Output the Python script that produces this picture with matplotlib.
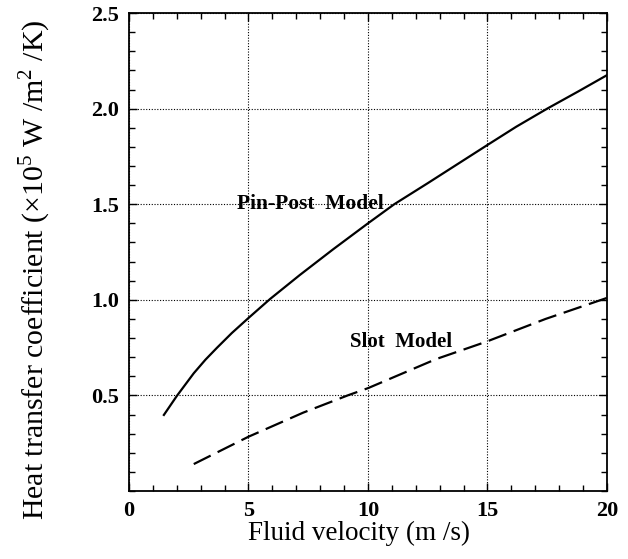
import matplotlib.pyplot as plt
import numpy as np
from matplotlib.ticker import MultipleLocator

plt.rcParams['font.family'] = ['Liberation Serif', 'DejaVu Serif']
plt.rcParams['mathtext.fontset'] = 'custom'
plt.rcParams['mathtext.rm'] = 'Liberation Serif'

# values
pin_v = [1.46, 2.0, 2.71, 3.2, 3.68, 4.3, 5.0, 5.9, 7.15, 8.55, 10.0, 11.1,
         12.5, 15.0, 16.2, 17.5, 18.8, 20.0]
pin_h = [0.398, 0.497, 0.616, 0.687, 0.749, 0.826, 0.905, 1.004, 1.13, 1.265,
         1.40, 1.50, 1.61, 1.81, 1.905, 2.0, 2.09, 2.175]
slot_v = [2.71, 5.0, 7.29, 9.17, 10.0, 12.85, 14.93, 17.43, 20.0]
slot_h = [0.141, 0.284, 0.41, 0.501, 0.538, 0.69, 0.78, 0.90, 1.01]

fig = plt.figure(figsize=(6.28, 5.59), dpi=100)
ax = fig.add_axes([0.2054, 0.1216, 0.7611, 0.8551])

ax.plot(pin_v, pin_h, color='black', lw=1.6)
ax.plot(slot_v, slot_h, color='black', lw=1.6, dashes=(8.5, 3.5))

ax.text(7.57, 1.50, 'Pin-Post  Model', fontsize=15.5, fontweight='bold',
        ha='center', va='center')
ax.text(11.39, 0.78, 'Slot  Model', fontsize=15, fontweight='bold',
        ha='center', va='center')

ax.set_xlim(0, 20)
ax.set_ylim(0, 2.5)
ax.xaxis.set_major_locator(MultipleLocator(5))
ax.xaxis.set_minor_locator(MultipleLocator(1))
ax.yaxis.set_minor_locator(MultipleLocator(0.1))
ax.set_yticks([0.5, 1.0, 1.5, 2.0, 2.5])
ax.set_yticklabels(['0.5', '1.0', '1.5', '2.0', '2.5'])

ax.grid(True, which='major', color='black', linestyle=(0, (1, 1.5)), lw=0.8)
ax.tick_params(which='both', direction='in', top=True, right=True,
               labelsize=16, pad=7, width=1)
ax.tick_params(which='major', length=6)
ax.tick_params(which='minor', length=4)
for lab in ax.get_xticklabels() + ax.get_yticklabels():
    lab.set_fontweight('bold')
for sp in ax.spines.values():
    sp.set_linewidth(1.3)

ax.set_xlabel('Fluid velocity (m /s)', fontsize=19.5)
ax.set_ylabel('Heat transfer coefficient (×10$^5$ W /m$^2$ /K)', fontsize=21.5)
ax.xaxis.set_label_coords(0.481, -0.063)
ax.yaxis.set_label_coords(-0.159, 0.462)

fig.savefig('out.png', dpi=100)
